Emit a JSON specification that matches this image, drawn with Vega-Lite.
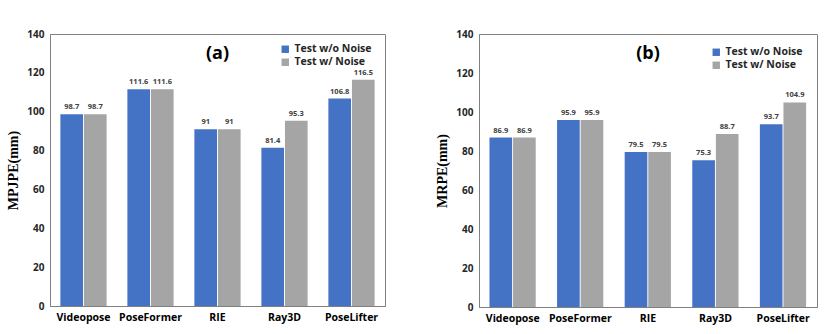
{
  "$schema": "https://vega.github.io/schema/vega-lite/v6.json",
  "padding": {"left": 6, "top": 28, "right": 5, "bottom": 5},
  "background": "white",
  "datasets": {
    "a": [
      {"method": "Videopose", "series": "Test w/o Noise", "value": 98.7},
      {"method": "Videopose", "series": "Test w/ Noise", "value": 98.7},
      {"method": "PoseFormer", "series": "Test w/o Noise", "value": 111.6},
      {"method": "PoseFormer", "series": "Test w/ Noise", "value": 111.6},
      {"method": "RIE", "series": "Test w/o Noise", "value": 91},
      {"method": "RIE", "series": "Test w/ Noise", "value": 91},
      {"method": "Ray3D", "series": "Test w/o Noise", "value": 81.4},
      {"method": "Ray3D", "series": "Test w/ Noise", "value": 95.3},
      {"method": "PoseLifter", "series": "Test w/o Noise", "value": 106.8},
      {"method": "PoseLifter", "series": "Test w/ Noise", "value": 116.5}
    ],
    "b": [
      {"method": "Videopose", "series": "Test w/o Noise", "value": 86.9},
      {"method": "Videopose", "series": "Test w/ Noise", "value": 86.9},
      {"method": "PoseFormer", "series": "Test w/o Noise", "value": 95.9},
      {"method": "PoseFormer", "series": "Test w/ Noise", "value": 95.9},
      {"method": "RIE", "series": "Test w/o Noise", "value": 79.5},
      {"method": "RIE", "series": "Test w/ Noise", "value": 79.5},
      {"method": "Ray3D", "series": "Test w/o Noise", "value": 75.3},
      {"method": "Ray3D", "series": "Test w/ Noise", "value": 88.7},
      {"method": "PoseLifter", "series": "Test w/o Noise", "value": 93.7},
      {"method": "PoseLifter", "series": "Test w/ Noise", "value": 104.9}
    ]
  },
  "spacing": 49,
  "resolve": {"legend": {"color": "independent"}},
  "hconcat": [
    {
      "width": 335,
      "height": 272,
      "data": {"name": "a"},
      "title": {"text": "(a)", "offset": -34, "fontSize": 18, "fontWeight": "bold", "font": "Open Sans", "color": "black", "anchor": "middle"},
      "encoding": {
        "x": {"field": "method", "type": "nominal", "sort": ["Videopose", "PoseFormer", "RIE", "Ray3D", "PoseLifter"], "scale": {"paddingInner": 0.31, "paddingOuter": 0.155}, "axis": {"title": null}},
        "xOffset": {"field": "series", "type": "nominal", "sort": ["Test w/o Noise", "Test w/ Noise"], "scale": {"paddingInner": 0.04}},
        "y": {"field": "value", "type": "quantitative", "scale": {"domain": [0, 140]}, "axis": {"title": "MPJPE(mm)", "values": [0, 20, 40, 60, 80, 100, 120, 140]}}
      },
      "layer": [
        {
          "mark": {"type": "bar"},
          "encoding": {
            "color": {"field": "series", "type": "nominal", "sort": ["Test w/o Noise", "Test w/ Noise"], "scale": {"range": ["#4472C4", "#A5A5A5"]}, "legend": {"legendX": 230, "legendY": 10}}
          }
        },
        {
          "mark": {"type": "text", "dy": -3, "fontSize": 7.5, "fontWeight": "bold", "font": "Open Sans", "color": "#404040", "baseline": "bottom"},
          "encoding": {"text": {"field": "value", "type": "quantitative"}}
        }
      ]
    },
    {
      "width": 338,
      "height": 273,
      "data": {"name": "b"},
      "title": {"text": "(b)", "offset": -34, "fontSize": 18, "fontWeight": "bold", "font": "Open Sans", "color": "black", "anchor": "middle"},
      "encoding": {
        "x": {"field": "method", "type": "nominal", "sort": ["Videopose", "PoseFormer", "RIE", "Ray3D", "PoseLifter"], "scale": {"paddingInner": 0.31, "paddingOuter": 0.155}, "axis": {"title": null}},
        "xOffset": {"field": "series", "type": "nominal", "sort": ["Test w/o Noise", "Test w/ Noise"], "scale": {"paddingInner": 0.04}},
        "y": {"field": "value", "type": "quantitative", "scale": {"domain": [0, 140]}, "axis": {"title": "MRPE(mm)", "values": [0, 20, 40, 60, 80, 100, 120, 140]}}
      },
      "layer": [
        {
          "mark": {"type": "bar"},
          "encoding": {
            "color": {"field": "series", "type": "nominal", "sort": ["Test w/o Noise", "Test w/ Noise"], "scale": {"range": ["#4472C4", "#A5A5A5"]}, "legend": {"legendX": 232, "legendY": 13}}
          }
        },
        {
          "mark": {"type": "text", "dy": -3, "fontSize": 7.5, "fontWeight": "bold", "font": "Open Sans", "color": "#404040", "baseline": "bottom"},
          "encoding": {"text": {"field": "value", "type": "quantitative"}}
        }
      ]
    }
  ],
  "config": {
    "view": {"stroke": "#808080", "strokeWidth": 1},
    "axis": {"grid": false, "ticks": false, "domainColor": "#808080", "labelFont": "Open Sans", "labelFontWeight": "bold", "labelColor": "#262626", "labelFontSize": 10},
    "axisX": {"labelAngle": 0, "labelPadding": 6, "labelFontSize": 10.5, "labelColor": "black"},
    "axisY": {"labelPadding": 6, "titleFont": "Liberation Serif", "titleFontSize": 14, "titleFontWeight": "bold", "titleColor": "black", "titlePadding": 6},
    "legend": {"orient": "none", "title": null, "symbolType": "square", "symbolSize": 55, "symbolOpacity": 1, "labelFont": "Open Sans", "labelFontWeight": "bold", "labelFontSize": 10.5, "labelColor": "#262626", "rowPadding": 2, "symbolStrokeWidth": 0}
  }
}
